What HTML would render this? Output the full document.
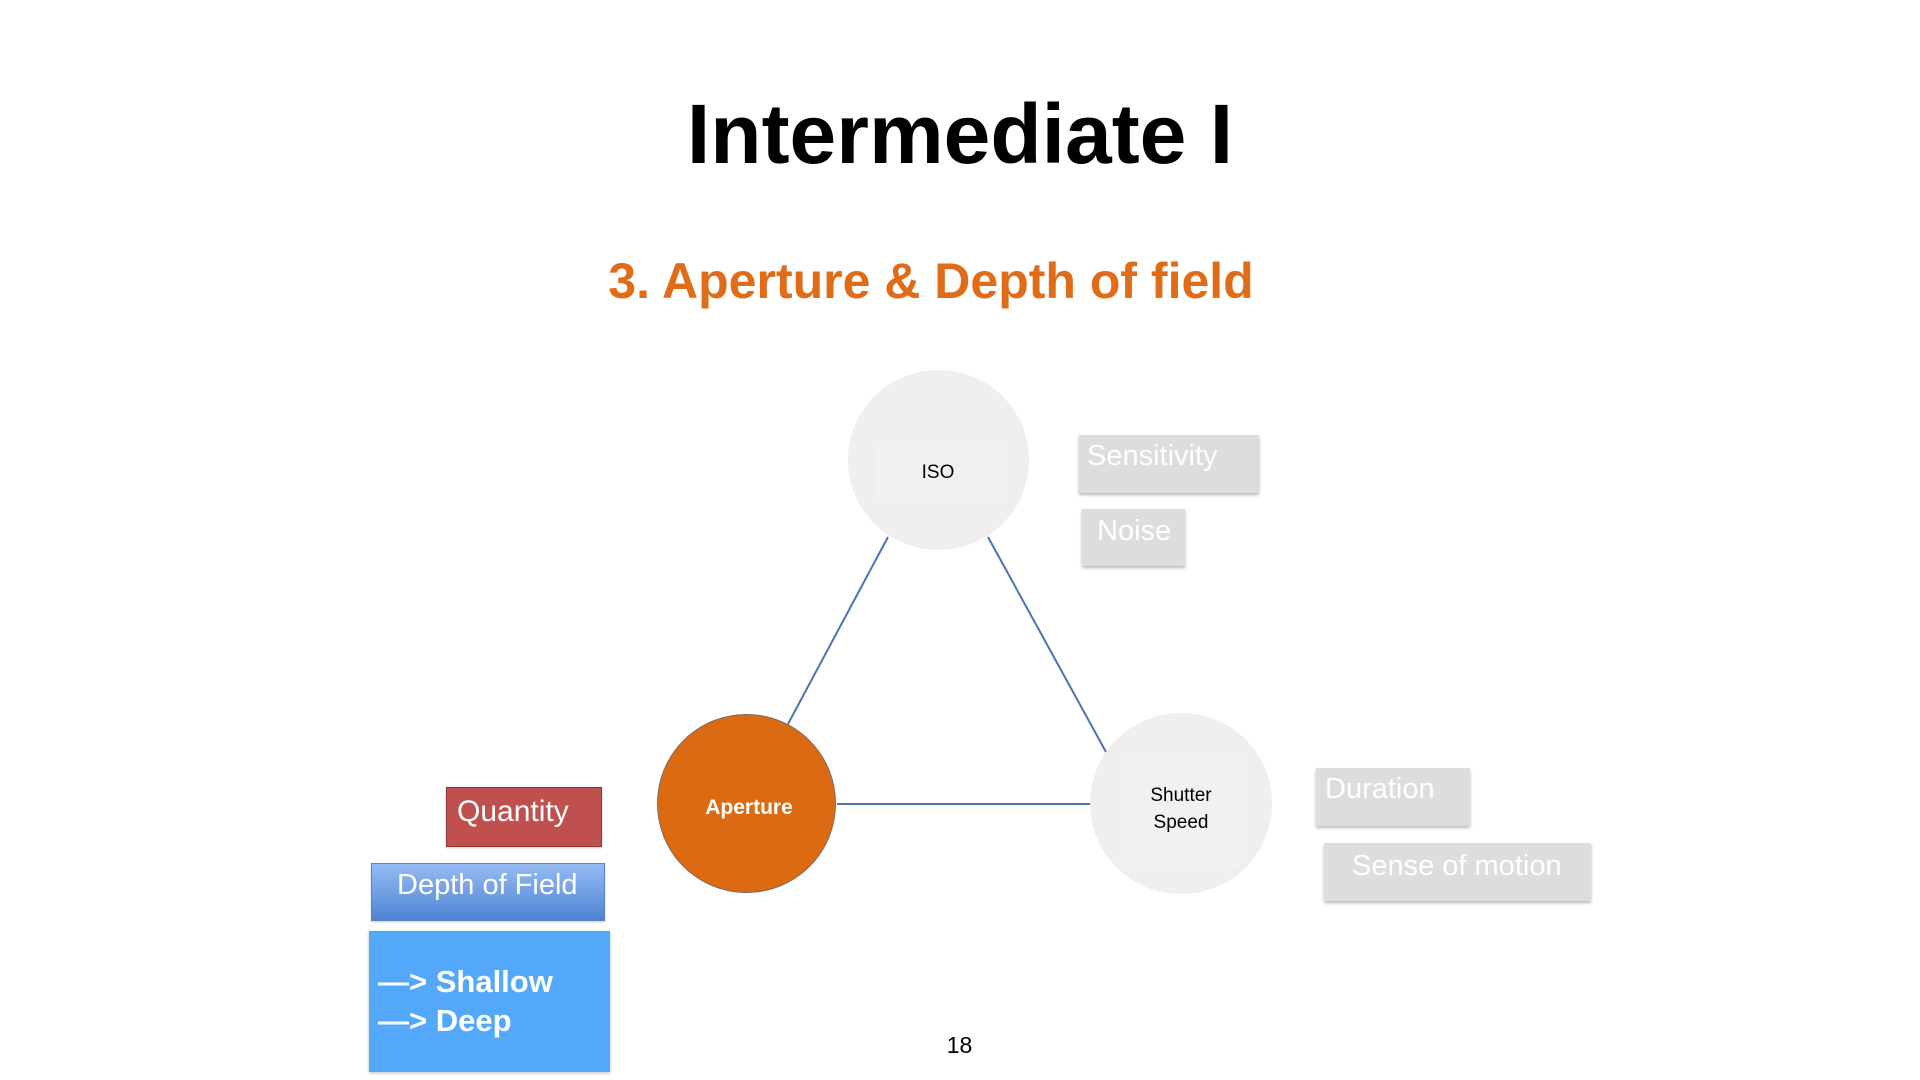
<!DOCTYPE html>
<html>
<head>
<meta charset="utf-8">
<style>
  html, body { margin:0; padding:0; }
  body { width:1920px; height:1080px; background:#ffffff; position:relative; overflow:hidden;
         font-family:"Liberation Sans", Arial, sans-serif; }
  .abs { position:absolute; white-space:nowrap; }
  .title { left:960px; top:92px; font-size:84px; line-height:84px; font-weight:bold; color:#000;
           transform:translateX(-50%); }
  .sub { left:931px; top:256px; font-size:50px; line-height:50px; font-weight:bold; color:#e06c17;
         transform:translateX(-50%); }
  .circle { position:absolute; border-radius:50%; }
  .gbox { position:absolute; background:#dcdddf; box-shadow:0 2px 3px rgba(0,0,0,0.28); }
  .gtxt { position:absolute; color:#ffffff; font-size:29px; line-height:29px; white-space:nowrap; }
</style>
</head>
<body>

<div class="abs title">Intermediate I</div>
<div class="abs sub">3. Aperture &amp; Depth of field</div>

<svg class="abs" style="left:0;top:0" width="1920" height="1080">
  <line x1="888" y1="537" x2="788" y2="724" stroke="#4a74b5" stroke-width="2"/>
  <line x1="988" y1="537" x2="1106" y2="752" stroke="#4a74b5" stroke-width="2"/>
  <line x1="837" y1="804" x2="1092" y2="804" stroke="#4a74b5" stroke-width="2"/>
</svg>

<!-- ISO circle -->
<div class="circle" style="left:849px;top:371px;width:179px;height:178px;background:#f0efef;box-shadow:0 0 0 1px #f3ebe5;"></div>
<div class="abs" style="left:876px;top:443px;width:126px;height:58px;background:#f2f1f1;"></div>
<div class="abs" style="left:938px;top:463px;font-size:19px;line-height:19px;color:#000;transform:translateX(-50%);">ISO</div>

<!-- Shutter circle -->
<div class="circle" style="left:1091px;top:714px;width:180px;height:179px;background:#f0efef;box-shadow:0 0 0 1px #f3ebe5;"></div>
<div class="abs" style="left:1120px;top:753px;width:122px;height:114px;background:#f2f1f1;"></div>
<div class="abs" style="left:1181px;top:782px;font-size:19px;line-height:27px;color:#000;text-align:center;transform:translateX(-50%);">Shutter<br>Speed</div>

<!-- Aperture circle -->
<div class="circle" style="left:657px;top:714px;width:177px;height:177px;background:#db6a12;border:1.5px solid #7d6a5e;"></div>
<div class="abs" style="left:749px;top:798px;font-size:21px;line-height:20px;font-weight:bold;color:#fff;transform:translateX(-50%);">Aperture</div>

<!-- Gray boxes -->
<div class="gbox" style="left:1079px;top:435px;width:180px;height:58px;"></div>
<div class="gtxt" style="left:1087px;top:442px;">Sensitivity</div>

<div class="gbox" style="left:1082px;top:509px;width:103px;height:57px;"></div>
<div class="gtxt" style="left:1097px;top:517px;">Noise</div>

<div class="gbox" style="left:1316px;top:768px;width:154px;height:58px;"></div>
<div class="gtxt" style="left:1325px;top:775px;">Duration</div>

<div class="gbox" style="left:1324px;top:843px;width:267px;height:58px;"></div>
<div class="gtxt" style="left:1352px;top:852px;">Sense of motion</div>

<!-- Quantity -->
<div class="abs" style="left:446px;top:787px;width:154px;height:58px;background:#c0504d;border:1px solid #8c3836;box-shadow:0 1px 2px rgba(0,0,0,0.2);"></div>
<div class="abs" style="left:457px;top:797px;font-size:30px;line-height:30px;color:#fff;">Quantity</div>

<!-- Depth of Field -->
<div class="abs" style="left:371px;top:863px;width:232px;height:56px;background:linear-gradient(#95bbf3,#6b9ae0 60%,#4d84d4);border:1px solid #5b86c6;box-shadow:0 1px 2px rgba(0,0,0,0.2);"></div>
<div class="abs" style="left:397px;top:871px;font-size:29px;line-height:29px;color:#fff;">Depth of Field</div>

<!-- Shallow / Deep -->
<div class="abs" style="left:369px;top:931px;width:241px;height:141px;background:#53a8fa;box-shadow:0 1px 3px rgba(0,0,0,0.25);"></div>
<div class="abs" style="left:378px;top:962px;font-size:31px;line-height:39px;font-weight:bold;color:#fff;">—&gt; Shallow<br>—&gt; Deep</div>

<!-- page number -->
<div class="abs" style="left:959.5px;top:1034px;font-size:23px;line-height:23px;color:#000;transform:translateX(-50%);">18</div>

</body>
</html>
